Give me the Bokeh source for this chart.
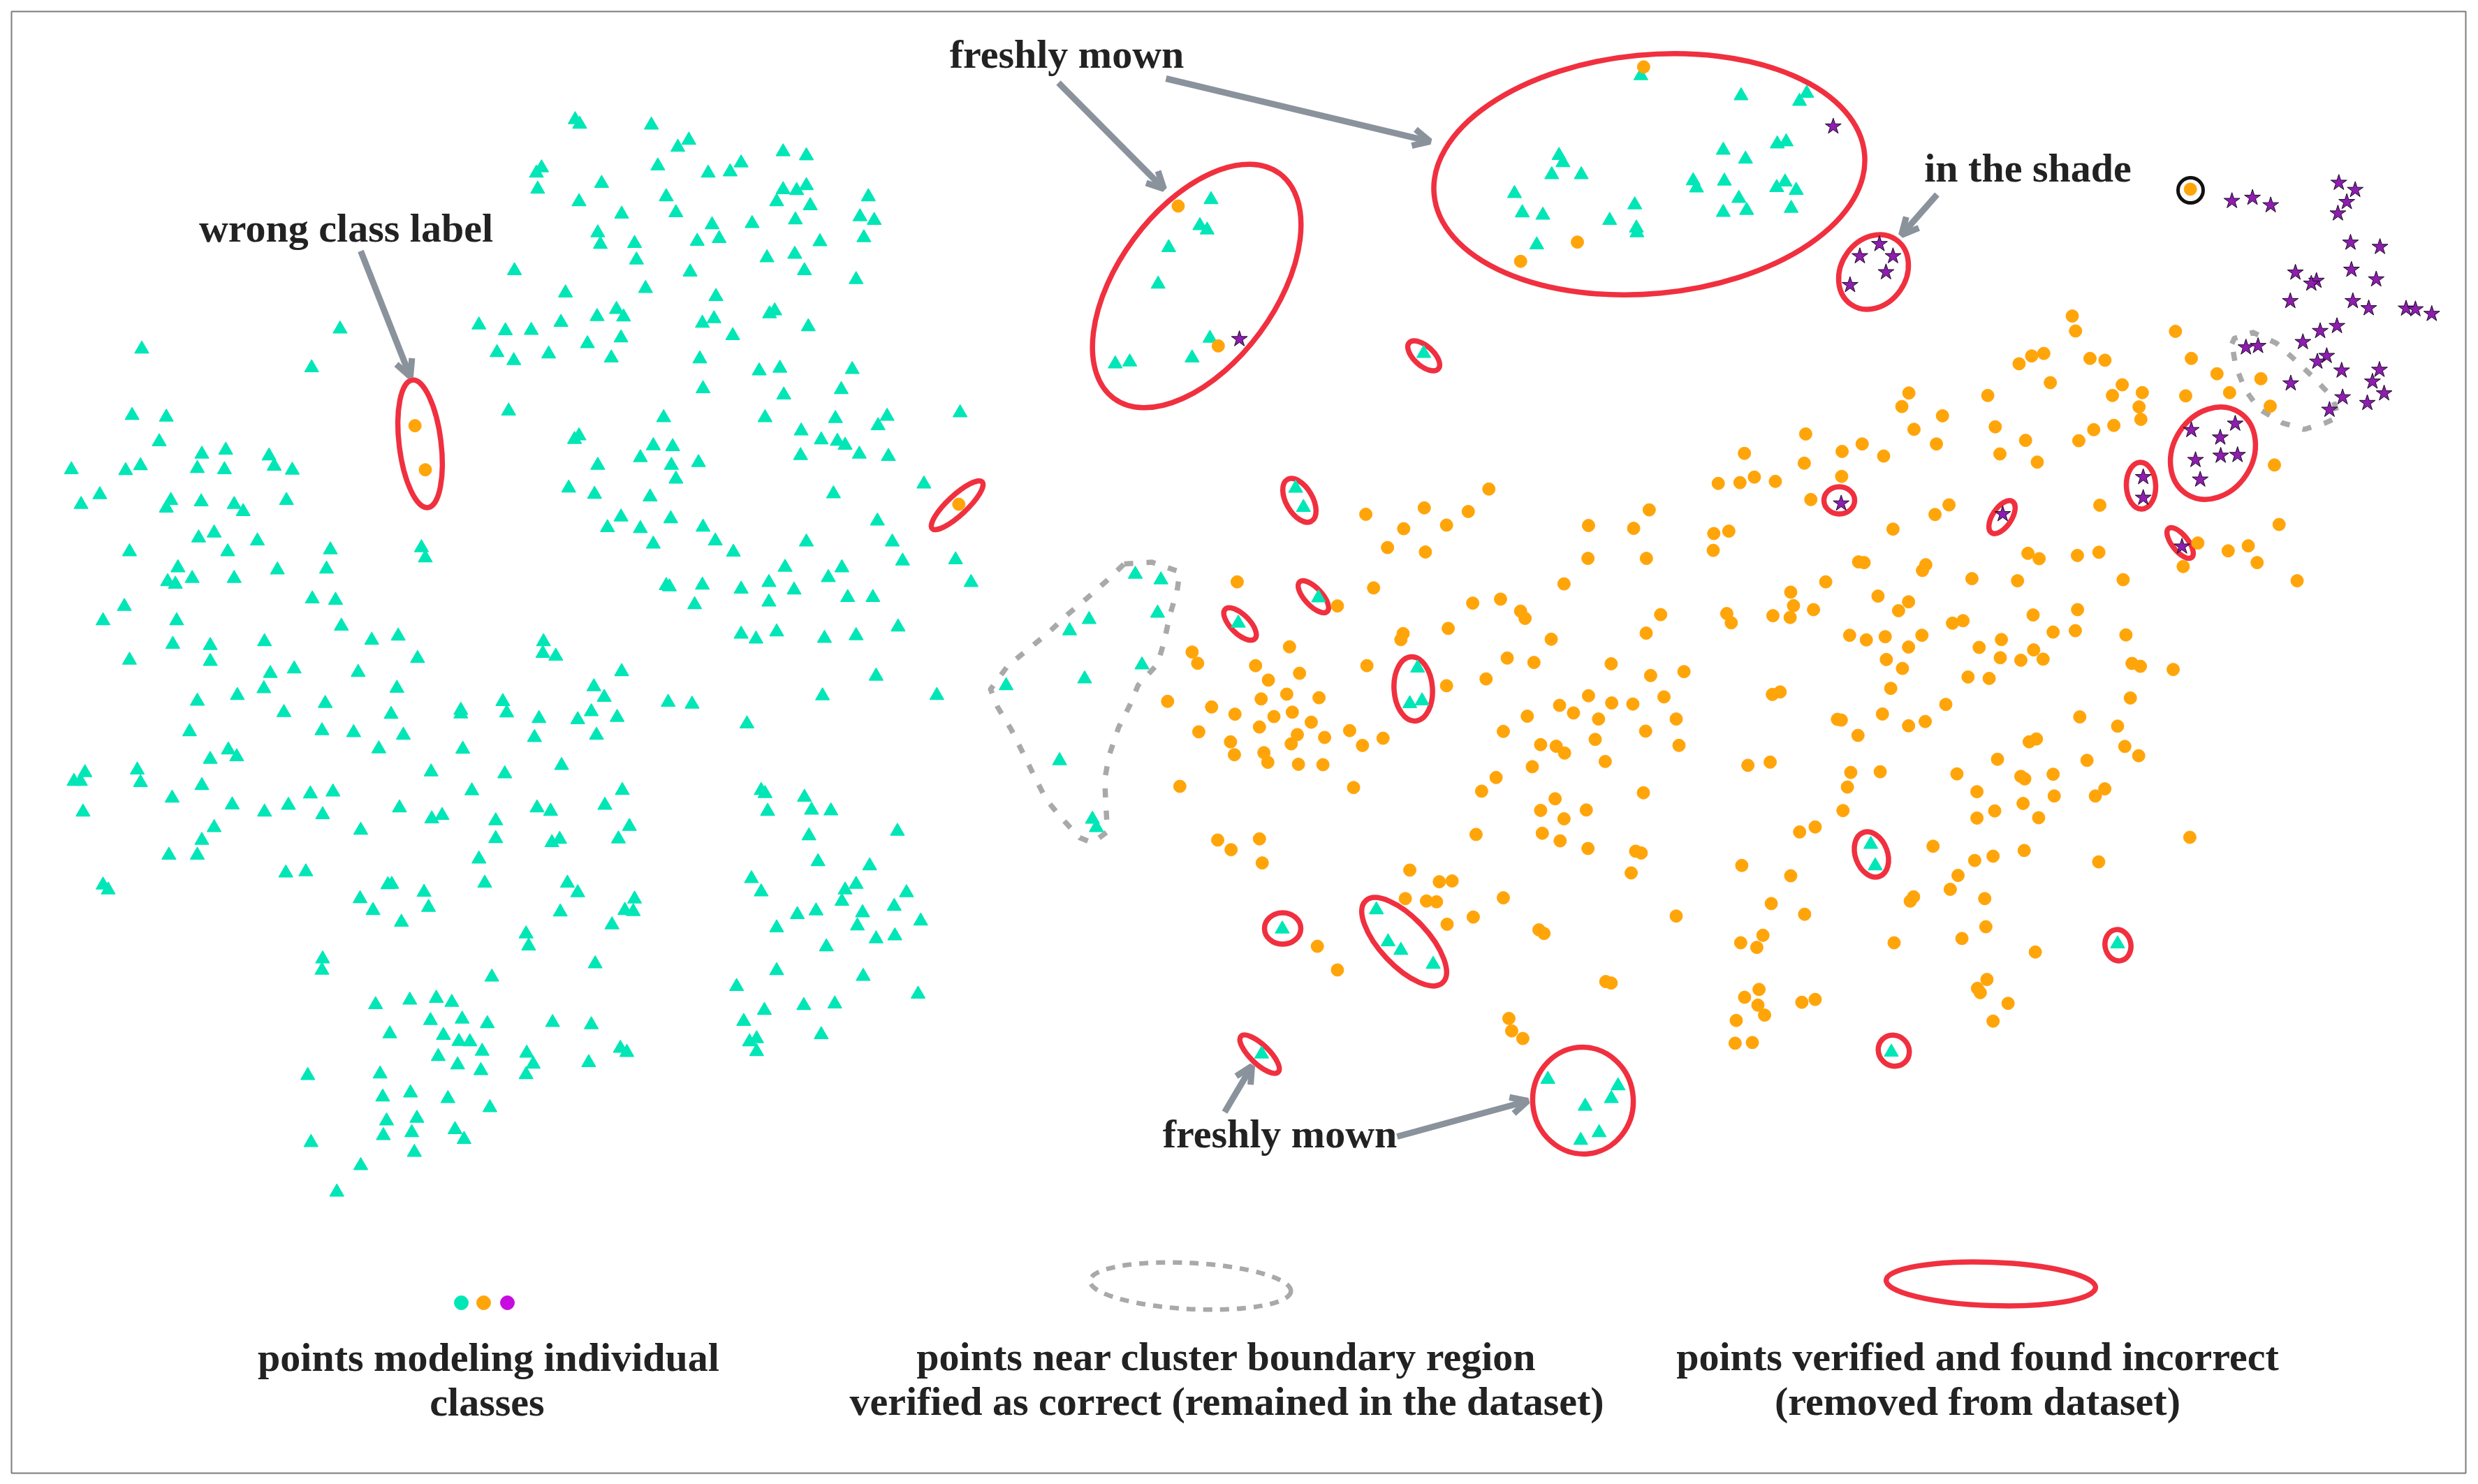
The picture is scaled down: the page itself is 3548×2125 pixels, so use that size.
import numpy as np
from bokeh.plotting import figure
from bokeh.models import Range1d, Arrow, OpenHead, ColumnDataSource
from bokeh.core.properties import value
from bokeh.embed import file_html
from bokeh.resources import INLINE

TEAL = "#00E6B6"
ORANGE = "#FFA50A"
PURPLE = "#8E1DB0"
MAGENTA = "#C80CE0"
RED = "#F0303F"
ARROW = "#8A929C"
DASH = "#A9A9A9"
INK = "#222222"

# Points: (origin x, origin y, x scale, y scale)
VIEW_A = (0, 0, 1.0814, 1.568)
VIEW_B = (0, 900, 1.0814, 1.845)
VIEW_C = (1350, 0, 1.2544, 1.742)
VIEW_D = (2500, 150, 1.496, 1.96)
VIEW_E = (1350, 800, 1.2544, 1.742)
VIEW_F = (2300, 800, 1.2564, 1.96)

teal_a = [(890,268),(897,278),(1008,280),(1049,330),(1066,314),(838,376),(830,388),(1018,372),(1096,388),(1130,385),(1147,365),(1212,340),(1248,349),(931,411),(832,424),(1212,425),(1233,427),(1248,416),(1344,441),(1031,441),(896,452),(1202,452),(1254,461),(962,480),(1046,477),(1331,486),(1353,494),(1231,493),(1164,501),(1102,504),(925,522),(1079,541),(1113,535),(1337,533),(929,548),(982,546),(1269,542),(985,583),(1187,578),(1230,570),(796,607),(1068,610),(1245,607),(1325,627),(999,647),(875,657),(1108,665),(1199,697),(1191,704),(954,694),(924,710),(965,711),(741,729),(782,742),(822,741),(868,723),(1105,715),(1087,725),(1251,733),(526,738),(961,758),(1134,753),(909,771),(219,783),(769,791),(795,809),(849,794),(946,803),(1083,805),(482,825),(1175,832),(1207,826),(1319,829),(1088,872),(1302,874),(1213,886),(787,922),(204,932),(257,936),(1027,937),(1184,937),(1293,939),(1373,934),(1486,926),(1359,955),(1240,967),(896,978),(889,986),(1271,987),(1296,990),(1308,999),(1011,1000),(1041,1002),(246,991),(312,1019),(349,1010),(416,1023),(424,1046),(1330,1019),(1239,1022),(1375,1024),(991,1027),(925,1044),(1039,1044),(1081,1038),(217,1045),(194,1056),(110,1054),(305,1051),(347,1054),(452,1055),(1046,1075),(1430,1086),(880,1095),(920,1109),(1290,1108),(1006,1115),(154,1110),(125,1132),(264,1123),(257,1140),(311,1126),(362,1132),(376,1148),(443,1123),(961,1160),(1038,1164),(1358,1169),(940,1184),(991,1186),(1088,1183),(331,1196),(307,1207),(398,1214),(1107,1214),(1011,1221),(1248,1216),(1381,1216),(1135,1239),(200,1238),(352,1238),(511,1234),(652,1229),(658,1252),(1397,1259),(1479,1256),(275,1274),(505,1277),(429,1279),(1215,1273),(1303,1274),(297,1298),(362,1298),(1282,1296),(259,1305),(271,1311),(1503,1307),(1190,1307),(1031,1314),(1036,1317),(1087,1313),(1147,1322),(1229,1324),(1312,1341),(1351,1341),(483,1344),(519,1347),(1190,1351),(192,1361),(1075,1357),(159,1393),(273,1393),(528,1405),(1390,1407)]

teal_b = [(1147,14),(1170,27),(1202,8),(1276,25),(1325,18),(267,41),(325,44),(409,34),(575,30),(616,19),(841,34),(840,65),(860,72),(200,83),(325,86),(646,78),(418,118),(455,106),(554,115),(962,113),(1356,125),(614,157),(919,153),(408,158),(367,176),(305,191),(503,197),(778,192),(935,181),(1034,194),(1071,199),(1273,177),(1450,176),(713,215),(713,225),(784,222),(605,226),(439,221),(915,219),(834,237),(894,240),(955,234),(1156,251),(293,272),(498,269),(547,274),(624,281),(827,287),(923,281),(586,317),(716,318),(353,320),(366,338),(325,345),(869,361),(212,373),(131,380),(667,378),(781,383),(114,403),(124,403),(217,406),(312,414),(730,428),(515,431),(480,436),(963,427),(266,447),(1178,427),(1184,435),(1245,445),(359,465),(446,466),(409,484),(128,484),(618,473),(499,491),(684,493),(668,502),(831,473),(852,482),(936,466),(1188,482),(1256,479),(1286,481),(767,507),(331,525),(974,522),(558,532),(1389,535),(312,559),(767,554),(866,556),(854,565),(957,555),(1252,547),(261,598),(305,598),(741,608),(1266,615),(1346,626),(442,645),(473,642),(1163,660),(159,677),(167,690),(600,676),(606,675),(750,672),(878,672),(1325,675),(656,696),(894,697),(1178,695),(1308,690),(1403,697),(557,713),(982,714),(1303,720),(577,744),(663,736),(967,744),(980,747),(867,748),(1234,755),(1263,745),(1335,750),(1384,733),(621,775),(947,782),(1202,790),(1327,785),(1425,772),(1356,819),(1385,811),(814,806),(818,838),(1279,840),(499,872),(498,902),(921,885),(1202,903),(761,920),(1336,918),(1140,945),(1421,965),(581,993),(634,981),(675,976),(699,987),(1183,1008),(1244,995),(1292,991),(666,1035),(715,1031),(754,1043),(855,1040),(915,1046),(1151,1037),(603,1070),(686,1074),(1271,1072),(710,1090),(727,1091),(1160,1091),(1171,1083),(960,1108),(970,1119),(746,1116),(815,1121),(1171,1117),(678,1130),(825,1150),(911,1146),(708,1152),(744,1167),(814,1178),(476,1180),(588,1176),(592,1237),(635,1226),(693,1241),(758,1265),(598,1300),(645,1293),(593,1339),(637,1331),(704,1323),(718,1349),(481,1357),(641,1383),(558,1418),(521,1488)]

teal_c = [(481,497),(461,562),(474,573),(405,617),(386,708),(479,843),(447,892),(309,907),(335,902),(1253,188),(1433,238),(1551,232),(1538,252),(1106,387),(1113,405),(1401,374),(1498,358),(1514,353),(1441,396),(1093,435),(1146,435),(1347,450),(1403,451),(1353,468),(1512,453),(1497,467),(1532,474),(1026,482),(1429,494),(1242,510),(1401,529),(1443,524),(1523,519),(1040,530),(1077,536),(1197,549),(1245,568),(1246,580),(1066,610),(863,881),(633,1217),(647,1265)]

teal_e = [(345,38),(391,52),(385,135),(262,151),(227,179),(113,316),(254,299),(357,264),(209,503),(268,649),(275,670),(530,160),(674,97),(852,272),(838,361),(860,354),(609,923),(778,875),(799,955),(822,976),(880,1011),(572,1235),(1086,1298),(1212,1314),(1200,1346),(1153,1365),(1178,1431),(1145,1450)]

teal_f = [(475,801),(483,861),(919,1080),(512,1384)]

orange_a = [(642,955),(658,1054)]

orange_c = [(422,513),(494,862),(1258,166),(1139,603),(1037,651),(1439,1130),(1392,1205),(1431,1203),(980,1219),(864,1266),(759,1282),(943,1275),(904,1309),(827,1318),(1268,1271),(1159,1310),(1240,1317),(1384,1330),(1411,1324),(1383,1372),(798,1365),(866,1376),(1158,1392),(1263,1392),(28,1257)]

orange_d = [(951,236),(698,592),(705,634),(919,635),(611,704),(637,697),(584,726),(736,711),(768,716),(953,711),(1008,754),(1102,768),(651,779),(805,785),(348,808),(517,815),(784,815),(848,807),(941,816),(1035,807),(333,846),(841,847),(1122,845),(420,872),(127,923),(533,903),(845,882),(787,899),(744,911),(359,910),(712,942),(598,941),(248,951),(407,951),(205,972),(294,985),(543,979),(124,1005),(623,1002),(1131,1010),(204,1042),(62,1056),(17,1044),(138,1107),(434,1122),(404,1149),(757,1123),(314,1190),(1141,1177),(967,1229),(603,1258),(627,1273),(709,1264),(755,1255),(1032,1251),(1075,1237)]

orange_e = [(528,57),(773,72),(1115,62),(951,110),(1001,100),(708,117),(1037,130),(1045,148),(907,173),(826,186),(822,201),(1092,200),(622,219),(447,232),(457,260),(561,266),(1013,247),(1061,258),(761,266),(640,285),(584,302),(975,299),(904,316),(403,355),(482,369),(571,349),(617,337),(675,346),(524,387),(594,393),(627,382),(661,407),(568,419),(1107,365),(1049,392),(1132,384),(1159,341),(1177,399),(459,431),(730,428),(1006,430),(516,456),(636,438),(685,445),(625,461),(790,447),(753,465),(1073,463),(1101,467),(1116,484),(1171,450),(523,488),(576,483),(583,507),(638,512),(682,513),(1058,518),(1189,505),(425,567),(737,570),(993,545),(967,579),(1099,598),(1073,627),(1155,626),(1115,648),(493,701),(568,698),(517,725),(957,687),(1076,684),(1108,703),(1158,722),(573,758),(838,776),(891,805),(914,803),(830,847),(868,853),(886,855),(1006,845),(952,893),(905,911),(1070,925),(1079,934),(672,966),(708,1025),(1190,1054),(1016,1146),(1021,1177),(1041,1196)]

orange_f = [(453,8),(463,10),(574,16),(568,32),(1037,21),(1170,10),(657,55),(739,61),(394,64),(929,58),(1242,61),(331,93),(488,104),(543,120),(525,145),(336,131),(372,142),(299,159),(330,164),(216,153),(224,179),(97,156),(847,142),(767,157),(641,173),(622,180),(71,208),(437,214),(467,227),(501,218),(567,214),(543,247),(670,248),(710,226),(803,205),(843,201),(934,213),(768,255),(8,294),(503,282),(708,277),(745,284),(785,281),(945,293),(960,301),(1019,310),(532,307),(79,327),(139,316),(650,331),(688,335),(511,363),(942,390),(312,373),(298,380),(103,387),(9,404),(47,407),(610,408),(496,435),(125,449),(851,443),(415,450),(422,452),(573,456),(543,468),(919,469),(70,483),(452,495),(130,523),(773,505),(760,513),(932,526),(957,552),(703,562),(864,565),(254,579),(294,570),(439,599),(492,597),(630,603),(745,610),(752,617),(803,604),(433,640),(66,656),(666,653),(805,665),(896,645),(879,665),(749,686),(425,706),(698,707),(666,727),(777,726),(375,752),(347,766),(1049,781),(587,806),(751,818),(52,820),(62,825),(695,834),(662,846),(885,850),(243,860),(44,881),(331,889),(632,888),(618,927),(552,948),(546,960),(680,953),(296,967),(125,1002),(356,997),(682,1032),(639,1065),(281,1056),(241,1077),(270,1090),(517,1077),(771,1103),(8,1190),(684,1180),(667,1205),(672,1217),(274,1208),(248,1230),(375,1236),(351,1244),(272,1252),(722,1247),(284,1280),(233,1295),(695,1297),(231,1359),(262,1357)]

stars_c = [(532,845)]
stars_d = [(186,60),(1040,269),(1084,260),(1123,281),(1269,218),(1304,238),(1286,272),(1267,304),(285,390),(243,424),(314,424),(299,469),(222,505),(1294,386),(1357,398),(1176,470),(1296,462),(1349,489),(1221,493),(1210,501),(1165,550),(1299,550),(1333,570),(1413,571),(1433,573),(1468,586),(1265,620),(1229,634),(1192,665),(1070,680),(1096,676),(1243,704),(1223,720),(1275,745),(1356,743),(1166,781),(1341,776),(1277,820),(1366,809),(1330,836),(1249,855),(1047,894),(953,912),(1015,933),(1016,984),(1052,982),(962,996),(972,1051),(850,1044),(850,1102),(203,1118),(549,1148),(933,1239)]

# Verified-incorrect rings: centre x, centre y, long axis, short axis, tilt (deg, clockwise on screen)
rings = [
    (601,635,184,60,83),(1370,723,98,28,-43),(1713,409,400,225,-53.6),(2361,249,619,342,-5.4),
    (2038,509,56,28,42),(1860,716,69,38,60),(1880,854,58,25,47),(1775,893,60,27,45),
    (2023,986,92,55,86),(1836,1329,52,45,0),(2010,1348,161,69,46.7),(1803,1509,74,27,44),
    (2266,1575.5,153,144,85),(2679,1223,67,46,69.5),(3032,1353,45,37,80),(2711,1504,46,43,45),
    (2682,389,113,93,-55),(3168,648.5,139,114,-57),(3065,695,67,42,88),(2633,716,44,39,0),
    (2866,740,54,27,-56),(3121,777,53,23,51.5),
    (2850,1838,300,62,2),
]
dash_ring = (1704,1841,288,66,3)
black_ring = (3136,272,36)

# Dashed cluster-boundary outlines
boundary_e = [(325,12),(375,8),(425,32),(420,80),(407,140),(397,205),(385,262),(350,315),(335,365),(315,420),(298,490),(290,550),(292,610),(295,680),(268,708),(245,695),(215,650),(185,600),(163,540),(143,483),(122,425),(98,370),(85,325),(115,268),(150,228),(188,185),(222,140),(258,98),(293,55),(325,12)]
boundary_d = [(1040,670),(1045,655),(1085,638),(1135,668),(1175,715),(1215,765),(1255,820),(1268,875),(1240,892),(1195,910),(1148,892),(1098,853),(1068,798),(1048,732),(1040,670)]

arrows = [(516,359,587,539),(1515,118,1666,270),(1669,112,2047,202),(2773,278,2722,336),(1753,1592,1792,1526),(2000,1627,2187,1576)]

notes = ["wrong class label","freshly mown","in the shade","freshly mown"]
notes_x = [495,1527,2903,1832]
notes_y = [326,77,240,1623]

caption_text = ["points modeling individual","classes","points near cluster boundary region",
                "verified as correct (remained in the dataset)","points verified and found incorrect",
                "(removed from dataset)"]
caption_x = [699,697,1756,1756,2831,2831]
caption_y = [1943,2007,1942,2006,1942,2006]

legend_dots_x = [660,692,726]
legend_dots_y = [1865,1865,1865]
legend_dots_c = [TEAL,ORANGE,MAGENTA]

ANGLE_SIGN = -1


def read(points, view):
    x0, y0, sx, sy = view
    a = np.array(points, dtype=float)
    return x0 + a[:, 0] / sx, y0 + a[:, 1] / sy


def merge(*pairs):
    xs, ys = zip(*[read(pts, view) for pts, view in pairs])
    return np.concatenate(xs), np.concatenate(ys)


teal_x, teal_y = merge((teal_a, VIEW_A), (teal_b, VIEW_B), (teal_c, VIEW_C), (teal_e, VIEW_E), (teal_f, VIEW_F))
orange_x, orange_y = merge((orange_a, VIEW_A), (orange_c, VIEW_C), (orange_d, VIEW_D), (orange_e, VIEW_E), (orange_f, VIEW_F))
star_x, star_y = merge((stars_c, VIEW_C), (stars_d, VIEW_D))

p = figure(width=3540, height=2117, x_range=Range1d(0, 3540), y_range=Range1d(2117, 0),
           output_backend="svg", toolbar_location=None, min_border=0)
p.axis.visible = False
p.grid.visible = False
p.outline_line_color = None
p.background_fill_color = "white"
p.border_fill_color = "white"

# frame
p.quad(left=[16], right=[3530], top=[16], bottom=[2109], fill_color=None, line_color="#7c7c7c", line_width=2)

# rings
r = np.array(rings, dtype=float)
p.ellipse(x=r[:, 0], y=r[:, 1], width=r[:, 2], height=r[:, 3], angle=ANGLE_SIGN * r[:, 4], angle_units="deg",
          fill_color=None, line_color=RED, line_width=7.5)
p.ellipse(x=[dash_ring[0]], y=[dash_ring[1]], width=[dash_ring[2]], height=[dash_ring[3]],
          angle=[ANGLE_SIGN * dash_ring[4]], angle_units="deg", fill_color=None,
          line_color=DASH, line_width=6.5, line_dash="13 11")
p.ellipse(x=[black_ring[0]], y=[black_ring[1]], width=[black_ring[2]], height=[black_ring[2]],
          fill_color=None, line_color="#111111", line_width=5)

# dashed outlines
for pts, view in ((boundary_e, VIEW_E), (boundary_d, VIEW_D)):
    bx, by = read(pts, view)
    p.line(bx, by, line_color=DASH, line_width=7.5, line_dash="13 19", line_join="round")

# points
p.scatter(teal_x, teal_y, marker="triangle", size=19.5, fill_color=TEAL, line_color=TEAL, line_width=1.5, line_join="round")
p.scatter(orange_x, orange_y, marker="circle", size=18, fill_color=ORANGE, line_color=ORANGE)
p.scatter(star_x, star_y, marker="star", size=24, fill_color=PURPLE, line_color="#1a0a20", line_width=1)
p.scatter(legend_dots_x, legend_dots_y, marker="circle", size=20, fill_color=legend_dots_c, line_color=legend_dots_c)

# arrows
a = np.array(arrows, dtype=float)
src = ColumnDataSource(dict(x0=a[:, 0], y0=a[:, 1], x1=a[:, 2], y1=a[:, 3]))
p.add_layout(Arrow(source=src, x_start="x0", y_start="y0", x_end="x1", y_end="y1", line_color=ARROW, line_width=9,
                   end=OpenHead(size=24, line_color=ARROW, line_width=9)))

# texts
p.text(notes_x, notes_y, text=notes, text_font=value("Liberation Serif"), text_font_style="bold",
       text_font_size="58px", text_color=INK, text_align="center", text_baseline="middle")
p.text(caption_x, caption_y, text=caption_text, text_font=value("Liberation Serif"), text_font_style="bold",
       text_font_size="58px", text_color=INK, text_align="center", text_baseline="middle")

open("out.html", "w").write(file_html(p, INLINE))
